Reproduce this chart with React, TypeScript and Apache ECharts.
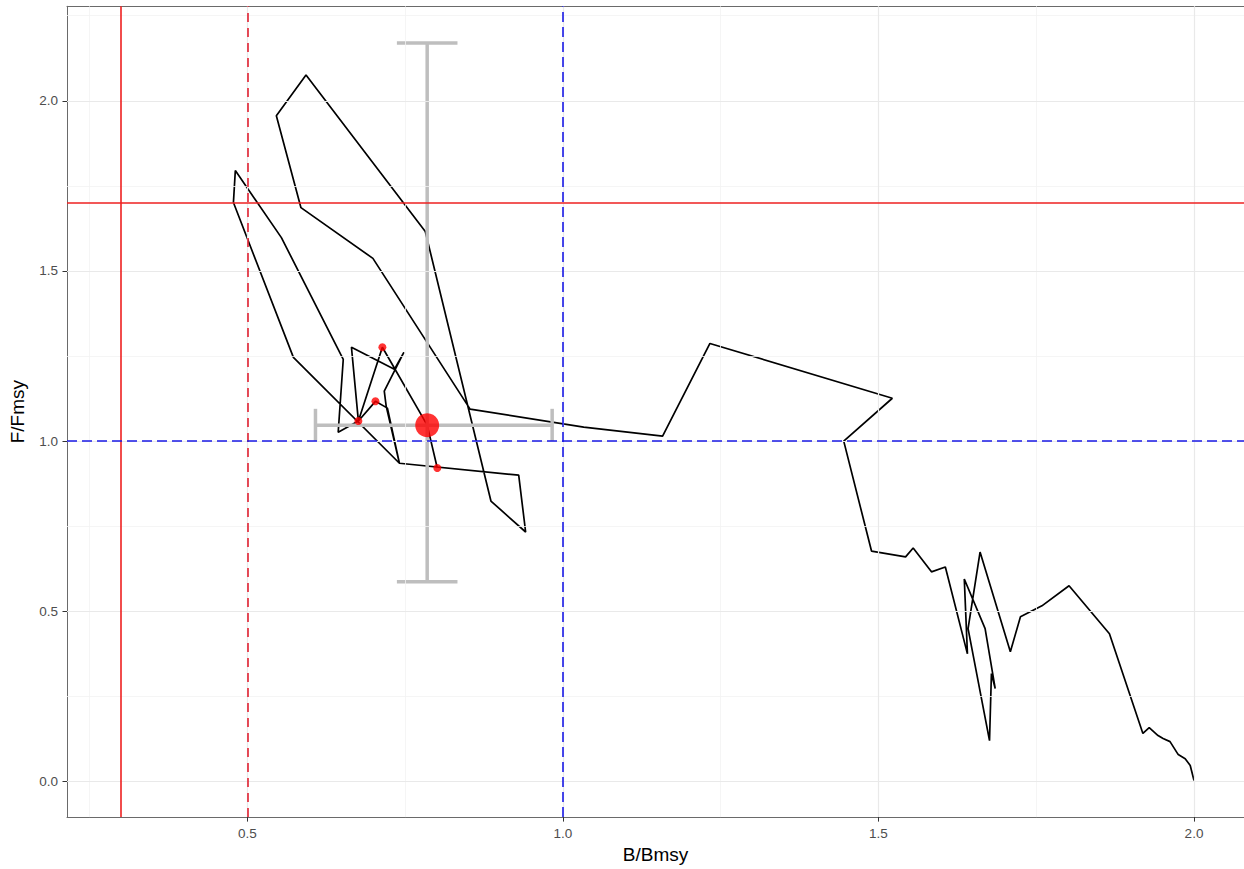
import React, { useEffect, useRef } from "react";
import * as echarts from "echarts";

// Trajectory of B/Bmsy and F/Fmsy (chronological, from unexploited state)
const trajectoryB = [
  2.0, 1.994, 1.986, 1.975, 1.962, 1.951, 1.943, 1.929, 1.919, 1.866,
  1.802, 1.759, 1.725, 1.709, 1.661, 1.642, 1.676, 1.679, 1.685, 1.669,
  1.636, 1.641, 1.606, 1.584, 1.555, 1.543, 1.489, 1.445, 1.522, 1.233,
  1.158, 1.033, 0.853, 0.699, 0.585, 0.546, 0.593, 0.782, 0.886, 0.941,
  0.93, 0.741, 0.573, 0.478, 0.481, 0.554, 0.652, 0.644, 0.676, 0.665,
  0.733, 0.748, 0.717, 0.72, 0.741, 0.722, 0.703, 0.676, 0.714, 0.785,
  0.801,
];
const trajectoryF = [
  0.003, 0.047, 0.067, 0.079, 0.117, 0.126, 0.135, 0.158, 0.141, 0.434,
  0.575, 0.516, 0.484, 0.381, 0.674, 0.449, 0.12, 0.317, 0.273, 0.449,
  0.595, 0.375, 0.63, 0.616, 0.686, 0.66, 0.677, 1.0, 1.126, 1.287,
  1.015, 1.041, 1.094, 1.537, 1.686, 1.956, 2.076, 1.616, 0.824, 0.733,
  0.9, 0.935, 1.246, 1.701, 1.795, 1.598, 1.24, 1.026, 1.059, 1.276,
  1.211, 1.261, 1.147, 1.103, 0.935, 1.097, 1.117, 1.059, 1.276, 1.047,
  0.921,
];

// Recent years highlighted
const recentB = [0.703, 0.676, 0.714, 0.801];
const recentF = [1.117, 1.059, 1.276, 0.921];

// Current status with uncertainty
const currentB = 0.785;
const currentF = 1.047;
const ciB = [0.608, 0.983];
const ciF = [0.587, 2.17];

// Reference points
const bLimit = 0.3;
const fLimit = 1.7;
const bThreshold = 0.5;
const bTarget = 1.0;
const fTarget = 1.0;

// Axis ticks
const xTicks = [0.5, 1.0, 1.5, 2.0];
const yTicks = [0.0, 0.5, 1.0, 1.5, 2.0];
const xMinor = [0.25, 0.75, 1.25, 1.75];
const yMinor = [0.25, 0.75, 1.25, 1.75, 2.25];

const FONT = "Liberation Sans, Arial, sans-serif";
const X_MIN = 0.2143;
const X_MAX = 2.0792;
const Y_MIN = -0.1047;
const Y_MAX = 2.2777;
const BORDER = "#6a6a6a";

export default function App() {
  const ref = useRef<HTMLDivElement>(null);

  useEffect(() => {
    document.body.style.margin = "0";
    if (!ref.current) return;
    const chart = echarts.init(ref.current, undefined, { renderer: "svg" });

    const path = trajectoryB.map((b, i) => [b, trajectoryF[i]]);
    const recent = recentB.map((b, i) => [b, recentF[i]]);
    const capHalf = 0.048;

    const noLabel = { show: false };
    const gridLine = (axis: "xAxis" | "yAxis", v: number) => ({ [axis]: v });

    const option: any = {
      animation: false,
      backgroundColor: "#ffffff",
      grid: {
        left: 65.7,
        right: 0,
        top: 6.3,
        bottom: 50.3,
        show: false,
      },
      xAxis: [
        {
          type: "value",
          min: X_MIN,
          max: X_MAX,
          name: "B/Bmsy",
          nameLocation: "middle",
          nameGap: 25,
          nameTextStyle: { color: "#000", fontSize: 19, fontFamily: FONT },
          axisLine: { show: true, onZero: false, lineStyle: { color: BORDER, width: 1 } },
          splitLine: { show: false },
          axisTick: {
            show: true,
            customValues: xTicks,
            length: 4.5,
            lineStyle: { color: "#333", width: 1 },
          },
          axisLabel: {
            customValues: xTicks,
            formatter: (v: number) => v.toFixed(1),
            color: "#4d4d4d",
            fontSize: 13.5,
            fontFamily: FONT,
            margin: 9,
          },
        },
        {
          type: "value",
          position: "top",
          min: X_MIN,
          max: X_MAX,
          axisLine: { show: true, onZero: false, lineStyle: { color: BORDER, width: 1 } },
          axisTick: { show: false },
          axisLabel: { show: false },
          splitLine: { show: false },
        },
      ],
      yAxis: {
        type: "value",
        min: Y_MIN,
        max: Y_MAX,
        name: "F/Fmsy",
        nameLocation: "middle",
        nameGap: 40,
        nameTextStyle: { color: "#000", fontSize: 19, fontFamily: FONT },
        axisLine: { show: true, onZero: false, lineStyle: { color: BORDER, width: 1 } },
        splitLine: { show: false },
        axisTick: {
          show: true,
          customValues: yTicks,
          length: 4.5,
          lineStyle: { color: "#333", width: 1 },
        },
        axisLabel: {
          customValues: yTicks,
          formatter: (v: number) => v.toFixed(1),
          color: "#4d4d4d",
          fontSize: 13.5,
          fontFamily: FONT,
          margin: 9,
        },
      },
      series: [
        {
          name: "minor grid",
          type: "line",
          data: [],
          z: 0,
          silent: true,
          markLine: {
            silent: true,
            symbol: ["none", "none"],
            label: noLabel,
            lineStyle: { color: "#f2f2f2", width: 0.8, type: "solid" },
            data: [
              ...xMinor.map((v) => gridLine("xAxis", v)),
              ...yMinor.map((v) => gridLine("yAxis", v)),
            ],
          },
        },
        {
          name: "major grid",
          type: "line",
          data: [],
          z: 1,
          silent: true,
          markLine: {
            silent: true,
            symbol: ["none", "none"],
            label: noLabel,
            lineStyle: { color: "#e9e9e9", width: 1.2, type: "solid" },
            data: [
              ...xTicks.map((v) => gridLine("xAxis", v)),
              ...yTicks.map((v) => gridLine("yAxis", v)),
            ],
          },
        },
        {
          name: "trajectory",
          type: "line",
          data: path,
          z: 2,
          showSymbol: false,
          symbol: "none",
          silent: true,
          lineStyle: { color: "#000000", width: 1.7 },
        },
        {
          name: "limits",
          type: "line",
          data: [],
          z: 3,
          silent: true,
          markLine: {
            silent: true,
            symbol: ["none", "none"],
            label: noLabel,
            data: [
              { xAxis: bLimit, lineStyle: { color: "#ee2020", width: 1.6, type: "solid" } },
              { yAxis: fLimit, lineStyle: { color: "#ee2020", width: 1.6, type: "solid" } },
              { xAxis: bThreshold, lineStyle: { color: "#e02030", width: 1.6, type: [9, 6] } },
              { xAxis: bTarget, lineStyle: { color: "#1a1ae6", width: 1.6, type: [10, 5] } },
              { yAxis: fTarget, lineStyle: { color: "#1a1ae6", width: 1.6, type: [10, 5] } },
            ],
          },
        },
        {
          name: "uncertainty",
          type: "custom",
          z: 4,
          silent: true,
          data: [[currentB, currentF, ciB[0], ciB[1], ciF[0], ciF[1]]],
          encode: { x: 0, y: 1 },
          renderItem: (params: any, api: any) => {
            const cb = api.value(0);
            const cf = api.value(1);
            const b0 = api.value(2);
            const b1 = api.value(3);
            const f0 = api.value(4);
            const f1 = api.value(5);
            const style = { stroke: "#bebebe", lineWidth: 3.5, fill: "none" };
            const seg = (p: number[], q: number[]) => {
              const a = api.coord(p);
              const b = api.coord(q);
              return {
                type: "line",
                shape: { x1: a[0], y1: a[1], x2: b[0], y2: b[1] },
                style,
              };
            };
            return {
              type: "group",
              children: [
                seg([cb, f0], [cb, f1]),
                seg([cb - capHalf, f1], [cb + capHalf, f1]),
                seg([cb - capHalf, f0], [cb + capHalf, f0]),
                seg([b0, cf], [b1, cf]),
                seg([b0, cf - capHalf], [b0, cf + capHalf]),
                seg([b1, cf - capHalf], [b1, cf + capHalf]),
              ],
            };
          },
        },
        {
          name: "recent",
          type: "scatter",
          z: 5,
          silent: true,
          data: recent,
          symbol: "circle",
          symbolSize: 8,
          itemStyle: { color: "#ff0000" },
        },
        {
          name: "current",
          type: "scatter",
          z: 6,
          silent: true,
          data: [[currentB, currentF]],
          symbol: "circle",
          symbolSize: 24,
          itemStyle: { color: "#ff0000" },
        },
      ],
    };

    chart.setOption(option);
    return () => {
      chart.dispose();
    };
  }, []);

  return (
    <div
      ref={ref}
      style={{
        position: "fixed",
        left: 0,
        top: 0,
        width: "1244px",
        height: "869px",
        background: "#fff",
      }}
    />
  );
}
